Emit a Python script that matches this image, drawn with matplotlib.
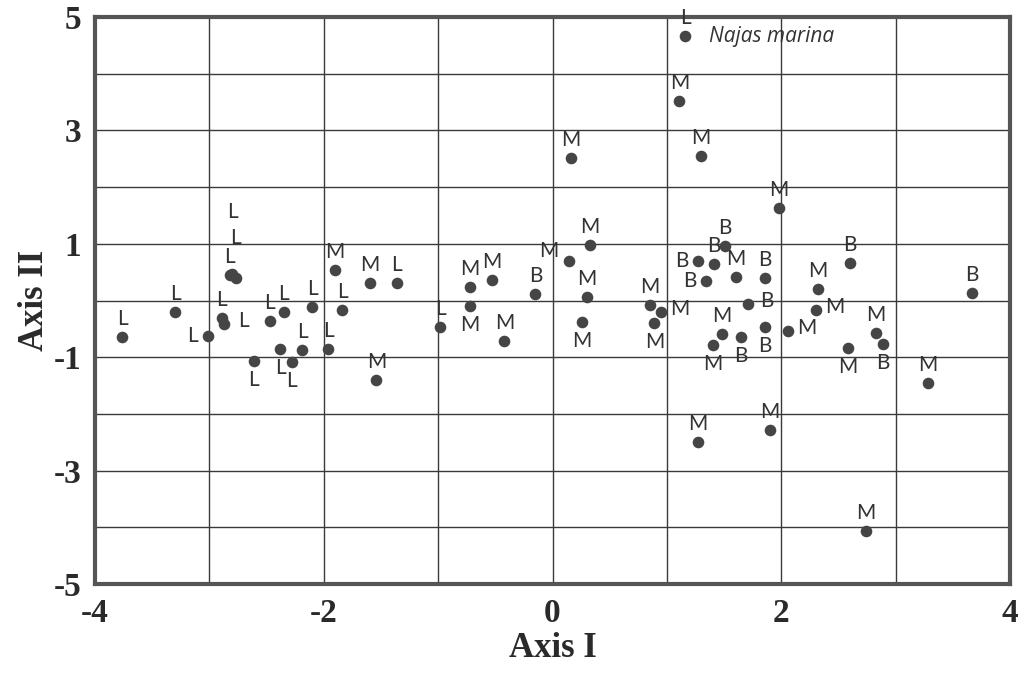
import matplotlib.pyplot as plt
import numpy as np

# Ordination scores (Axis I, Axis II)
groups = ['L'] * 20 + ['M'] * 30 + ['B'] * 12
axis1 = [
    # L
    -3.76, -3.30, -2.82, -2.77, -2.80, -2.89, -2.87, -3.01, -2.47, -2.35,
    -2.10, -1.84, -2.61, -2.38, -2.28, -2.19, -1.96, -1.36, -0.98, 1.16,
    # M
    -1.90, -1.60, -1.54, -0.72, -0.72, -0.53, -0.42, 0.14, 0.33, 0.30,
    0.26, 0.85, 0.95, 0.89, 0.16, 1.11, 1.30, 1.98, 1.60, 2.32,
    2.30, 2.06, 1.48, 1.40, 2.58, 2.83, 3.28, 1.27, 1.90, 2.74,
    # B
    -0.15, 1.27, 1.41, 1.51, 1.34, 1.86, 2.60, 3.67, 1.71, 1.86,
    1.65, 2.89,
]
axis2 = [
    # L
    -0.65, -0.20, 0.45, 0.40, 0.47, -0.30, -0.42, -0.62, -0.36, -0.21,
    -0.12, -0.17, -1.06, -0.86, -1.08, -0.87, -0.86, 0.30, -0.47, 4.66,
    # M
    0.53, 0.30, -1.40, 0.23, -0.10, 0.36, -0.71, 0.70, 0.98, 0.07,
    -0.38, -0.08, -0.21, -0.40, 2.51, 3.51, 2.54, 1.64, 0.41, 0.21,
    -0.17, -0.53, -0.59, -0.79, -0.84, -0.58, -1.46, -2.49, -2.28, -4.06,
    # B
    0.11, 0.70, 0.64, 0.97, 0.34, 0.40, 0.66, 0.14, -0.07, -0.46,
    -0.65, -0.76,
]
# where each letter sits relative to its point
label_side = [
    # L
    'up', 'up', 'up', 'up2', 'up3', 'up', 'right', 'left', 'up', 'up',
    'up', 'up', 'down', 'down', 'down', 'up', 'up', 'up', 'up', 'up',
    # M
    'up', 'up', 'up', 'up', 'down', 'up', 'up', 'upleft', 'up', 'up',
    'down', 'up', 'right', 'down', 'up', 'up', 'up', 'up', 'up', 'up',
    'right', 'right', 'up', 'down', 'down', 'up', 'up', 'up', 'up', 'up',
    # B
    'up', 'left', 'up', 'up', 'left', 'up', 'up', 'up', 'right', 'down',
    'down', 'down',
]
species_note = 'Najas marina'
species_index = 19

x_ticks = [-4, -2, 0, 2, 4]
y_ticks = [-5, -3, -1, 1, 3, 5]

offsets = {
    'up': (0, 18), 'up2': (0, 40), 'up3': (0, 62), 'down': (0, -19),
    'left': (-16, 0), 'right': (19, 3), 'upleft': (-20, 10),
}

fig = plt.figure(figsize=(10.18, 6.76), dpi=100)
ax = fig.add_axes([95 / 1018, 1 - 584 / 676, 915 / 1018, 567 / 676])

ax.scatter(axis1, axis2, s=70, color='#454545', zorder=3, linewidths=0)

for x, y, g, side in zip(axis1, axis2, groups, label_side):
    dx, dy = offsets[side]
    ax.annotate(g, (x, y), xytext=(dx, dy), textcoords='offset pixels',
                ha='center', va='center', fontsize=15, family='Lato',
                color='#333333', zorder=4, annotation_clip=False)

ax.annotate(species_note, (axis1[species_index], axis2[species_index]),
            xytext=(24, 0), textcoords='offset pixels', ha='left', va='center',
            fontsize=15, style='italic', family='Open Sans', color='#333333')

ax.set_xlim(-4, 4)
ax.set_ylim(-5, 5)
ax.set_xticks(np.arange(-4, 5, 1))
ax.set_yticks(np.arange(-5, 6, 1))
ax.set_xticklabels([str(v) if v in x_ticks else '' for v in range(-4, 5)])
ax.set_yticklabels([str(v) if v in y_ticks else '' for v in range(-5, 6)])
ax.grid(True, color='#3a3a3a', linewidth=1.0)
ax.set_axisbelow(True)
ax.tick_params(length=0, labelsize=24, pad=10)
for lab in ax.get_xticklabels() + ax.get_yticklabels():
    lab.set_family('Liberation Serif')
    lab.set_fontweight('bold')
    lab.set_color('#2a2a2a')

for sp in ax.spines.values():
    sp.set_linewidth(3)
    sp.set_color('#555555')

ax.set_xlabel('Axis I', fontsize=25, fontweight='bold', family='Liberation Serif',
              color='#2a2a2a', labelpad=2)
ax.set_ylabel('Axis II', fontsize=25, fontweight='bold', family='Liberation Serif',
              color='#2a2a2a', labelpad=2)

fig.savefig('out.png', dpi=100)
